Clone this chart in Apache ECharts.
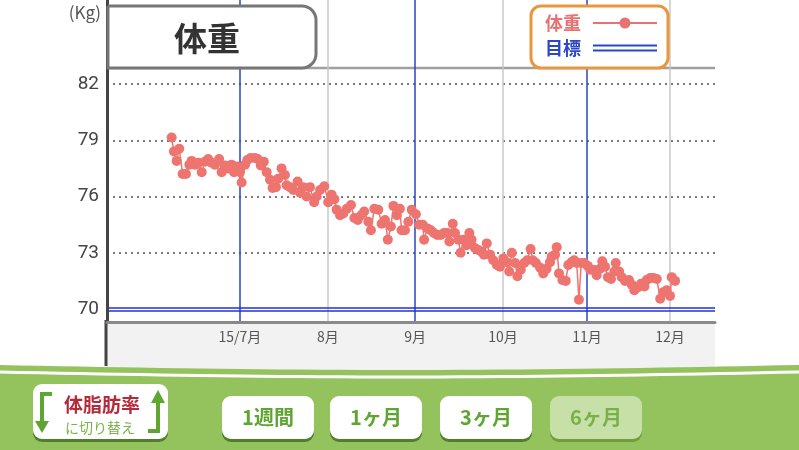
<!DOCTYPE html>
<html>
<head>
<meta charset="utf-8">
<script src="https://cdn.jsdelivr.net/npm/echarts@6/dist/echarts.min.js"></script>
<style>
html, body { margin: 0; padding: 0; background: #fff; }
#chart { width: 799px; height: 450px; }
</style>
</head>
<body>
<div id="chart"></div>
<script>
// 日数 (2015/7/1 = 0) と体重
const days = [
  -24.3, -23.5, -22.5, -21.6, -20.4, -19.2, -18.0, -17.2, -16.0, -14.8,
  -13.6, -12.5, -11.3, -10.1, -8.9, -7.4, -6.5, -5.3, -4.2, -3.0,
  -2.1, -1.0, 0, 0.6, 1.8, 2.6, 3.8, 5.3, 6.3, 7.4,
  8.5, 9.5, 10.7, 11.6, 12.8, 13.6, 14.8, 16.0, 16.6, 17.8,
  19.0, 20.5, 21.4, 22.5, 23.7, 24.9, 26.4, 27.3, 28.5, 30.0,
  31.4, 32.6, 33.6, 34.4, 35.6, 36.8, 38.0, 39.5, 40.7, 41.9,
  43.1, 44.2, 45.7, 46.6, 47.8, 49.2, 50.4, 51.6, 52.6, 53.7,
  54.6, 55.8, 56.9, 57.5, 58.7, 59.9, 61.1, 62.6, 63.8, 65.0,
  65.5, 66.7, 67.9, 69.0, 70.2, 71.4, 72.6, 73.8, 74.5, 75.7,
  76.5, 77.7, 78.5, 79.5, 80.7, 81.6, 82.4, 83.6, 84.8, 86.0,
  86.8, 87.8, 89.0, 90.1, 91.4, 92.5, 93.7, 94.9, 95.8, 96.7,
  97.9, 98.7, 99.9, 101.1, 102.2, 103.4, 104.2, 105.3, 106.8, 107.9,
  109.1, 110.3, 110.9, 112.1, 112.7, 113.5, 114.7, 115.9, 116.8, 118.0,
  118.9, 119.8, 120.6, 121.4, 122.5, 123.7, 124.6, 125.7, 126.9, 128.1,
  128.9, 129.9, 130.9, 132.0, 133.2, 133.7, 134.9, 135.8, 137.0, 138.4,
  139.4, 140.3, 141.5, 142.7, 143.9, 144.7, 145.9, 147.1, 148.3, 149.5,
  150.6, 151.8, 153.0, 153.6, 154.8
];
const weights = [
  79.15, 78.4, 77.9, 78.55, 77.2, 77.2, 77.7, 77.9, 77.7, 77.8,
  77.3, 77.85, 78.0, 77.8, 77.7, 78.0, 77.3, 77.65, 77.5, 77.7,
  77.3, 77.6, 77.3, 76.75, 77.7, 77.95, 78.05, 78.05, 78.0, 77.65,
  77.85, 77.3, 76.9, 76.45, 76.5, 76.95, 77.5, 77.15, 76.6, 76.5,
  76.35, 76.8, 76.2, 76.5, 76.0, 76.5, 75.7, 76.0, 76.35, 76.55,
  75.7, 76.1, 75.85, 75.3, 75.0, 75.1, 75.35, 75.55, 74.85, 74.75,
  75.0, 75.2, 74.65, 74.2, 75.35, 75.3, 74.55, 74.75, 73.7, 74.4,
  75.5, 75.0, 75.35, 74.2, 74.2, 74.65, 75.3, 75.05, 74.5, 74.5,
  73.7, 74.3, 74.2, 74.05, 73.95, 73.95, 74.05, 74.05, 73.6, 74.55,
  74.05, 73.7, 73.0, 73.7, 73.4, 74.05, 73.7, 73.25, 73.15, 73.05,
  72.9, 73.5, 72.9, 72.6, 72.35, 72.25, 72.7, 72.5, 72.0, 73.0,
  72.45, 71.75, 72.1, 72.45, 72.6, 73.2, 72.6, 72.45, 72.2, 71.9,
  72.15, 72.5, 72.8, 72.9, 73.3, 71.9, 71.55, 71.5, 72.35, 72.5,
  72.6, 72.45, 70.5, 72.45, 72.45, 72.3, 72.1, 72.1, 71.8, 72.15,
  72.55, 72.25, 71.7, 71.6, 72.0, 72.45, 72.0, 71.7, 71.5, 71.55,
  71.3, 71.0, 71.15, 71.35, 71.2, 71.55, 71.65, 71.65, 71.6, 70.55,
  70.9, 71.0, 70.7, 71.7, 71.5
];
const monthTicks = [0, 31.3, 62.3, 93.6, 123.5, 153];
const monthLabels = ['15/7月', '8月', '9月', '10月', '11月', '12月'];
const yTicks = [70, 73, 76, 79, 82];
const gridTicks = [73, 76, 79, 82];
const target = 70;
const periods = ['1週間', '1ヶ月', '3ヶ月', '6ヶ月'];

const FONT = '"Noto Sans CJK JP", "Noto Sans", sans-serif';
const GREEN = '#5ea531';

const chart = echarts.init(document.getElementById('chart'), null, { renderer: 'canvas' });

// 下部の緑帯
const bandTop = x => 365 + 5 * Math.sin(Math.PI * x / 799);
const bandPts = [];
const stripePts = [];
for (let x = 0; x <= 800; x += 20) {
  bandPts.push([x, bandTop(x)]);
  stripePts.push([x, bandTop(x) + 7]);
}
bandPts.push([800, 450], [0, 450]);

const btnX = [222, 330, 440, 550];
const buttons = [];
periods.forEach((p, i) => {
  const active = i === 3;
  buttons.push({
    type: 'rect', z: 101,
    shape: { x: btnX[i], y: 399, width: 92, height: 43, r: 9 },
    style: { fill: active ? '#6f9e3f' : '#4f7f2a' }
  });
  buttons.push({
    type: 'rect', z: 102,
    shape: { x: btnX[i], y: 396, width: 92, height: 43, r: 9 },
    style: { fill: active ? '#c6e0a8' : '#ffffff' }
  });
  buttons.push({
    type: 'text', z: 103,
    x: btnX[i] + 46, y: 417,
    style: {
      text: p, fill: active ? '#7ab04a' : GREEN,
      font: 'bold 20px ' + FONT, align: 'center', verticalAlign: 'middle'
    }
  });
});

const option = {
  animation: false,
  grid: { left: 107, right: 84, top: 0, bottom: 128 },
  xAxis: {
    type: 'value',
    min: -47.3,
    max: 169,
    z: 10,
    axisLine: { show: true, onZero: false, lineStyle: { color: '#8a8a8a', width: 3 } },
    axisTick: { show: false },
    splitLine: { show: false },
    axisLabel: {
      customValues: monthTicks,
      color: '#555',
      fontSize: 14,
      fontFamily: FONT,
      margin: 8,
      formatter: v => {
        const i = monthTicks.indexOf(v);
        return i >= 0 ? monthLabels[i] : '';
      }
    }
  },
  yAxis: {
    type: 'value',
    min: 69.307,
    max: 86.48,
    z: 10,
    axisLine: { show: true, onZero: false, lineStyle: { color: '#444', width: 3 } },
    axisTick: { show: false },
    splitLine: { show: false },
    axisLabel: {
      customValues: yTicks,
      color: '#444',
      fontSize: 19,
      fontFamily: 'Roboto, sans-serif',
      margin: 8
    }
  },
  series: [
    {
      name: 'grid',
      type: 'line',
      data: [],
      silent: true,
      markLine: {
        silent: true,
        symbol: 'none',
        label: { show: false },
        data: [
          ...gridTicks.map(v => ({
            yAxis: v,
            lineStyle: { color: '#7a7a7a', type: [2, 4], width: 2 }
          })),
          ...monthTicks.map((v, i) => ({
            xAxis: v,
            lineStyle: { color: i % 2 === 0 ? '#2a45c4' : '#c9c9c9', type: 'solid', width: 1.5 }
          })),
          { yAxis: target + 0.06, lineStyle: { color: '#1f32d6', type: 'solid', width: 1.5 } },
          { yAxis: target - 0.1, lineStyle: { color: '#1f32d6', type: 'solid', width: 1.5 } }
        ]
      }
    },
    {
      name: '体重',
      type: 'line',
      data: days.map((d, i) => [d, weights[i]]),
      symbol: 'circle',
      symbolSize: 10,
      itemStyle: { color: '#ee7470' },
      lineStyle: { color: '#ee7470', width: 1.5 },
      z: 5
    }
  ],
  graphic: [
    // プロット下の灰色エリア
    { type: 'rect', z: -1, shape: { x: 107, y: 323, width: 608, height: 50 }, style: { fill: '#f2f2f2' } },
    { type: 'line', z: 1, shape: { x1: 106, y1: 320, x2: 106, y2: 366 }, style: { stroke: '#444', lineWidth: 3 } },
    { type: 'line', z: 1, shape: { x1: 107, y1: 68, x2: 715, y2: 68 }, style: { stroke: '#a0a0a0', lineWidth: 2.5 } },
    // 単位
    { type: 'text', x: 101, y: 13, style: { text: '(Kg)', fill: '#555', font: '17px ' + FONT, align: 'right', verticalAlign: 'middle' } },
    // タイトル
    {
      type: 'rect', z: 20,
      shape: { x: 108, y: 6, width: 208, height: 62, r: [0, 14, 14, 0] },
      style: { fill: '#fff', stroke: '#777', lineWidth: 3 }
    },
    { type: 'text', z: 21, x: 207, y: 38, style: { text: '体重', fill: '#333', font: 'bold 33px ' + FONT, align: 'center', verticalAlign: 'middle' } },
    // 凡例
    {
      type: 'rect', z: 20,
      shape: { x: 531, y: 6, width: 137, height: 62, r: 10 },
      style: { fill: '#fff', stroke: '#e8973f', lineWidth: 3 }
    },
    { type: 'text', z: 21, x: 545, y: 23, style: { text: '体重', fill: '#e87272', font: 'bold 18px ' + FONT, verticalAlign: 'middle' } },
    { type: 'line', z: 21, shape: { x1: 593, y1: 23, x2: 657, y2: 23 }, style: { stroke: '#e87272', lineWidth: 2 } },
    { type: 'circle', z: 22, shape: { cx: 625, cy: 23, r: 5.5 }, style: { fill: '#e87272' } },
    { type: 'text', z: 21, x: 545, y: 48, style: { text: '目標', fill: '#2b47c6', font: 'bold 18px ' + FONT, verticalAlign: 'middle' } },
    { type: 'line', z: 21, shape: { x1: 593, y1: 45.5, x2: 657, y2: 45.5 }, style: { stroke: '#2b47c6', lineWidth: 2 } },
    { type: 'line', z: 21, shape: { x1: 593, y1: 50.5, x2: 657, y2: 50.5 }, style: { stroke: '#2b47c6', lineWidth: 2 } },
    // 緑帯
    { type: 'polygon', z: 100, shape: { points: bandPts }, style: { fill: '#94c35e' } },
    { type: 'polyline', z: 100, shape: { points: stripePts }, style: { stroke: '#ffffff', lineWidth: 3, fill: null } },
    // 体脂肪率 切替ボタン
    { type: 'rect', z: 101, shape: { x: 33, y: 387, width: 135, height: 55, r: 9 }, style: { fill: '#4f7f2a' } },
    { type: 'rect', z: 102, shape: { x: 33, y: 384, width: 135, height: 55, r: 9 }, style: { fill: '#ffffff' } },
    { type: 'text', z: 103, x: 102, y: 405, style: { text: '体脂肪率', fill: '#b52a3a', font: 'bold 19px ' + FONT, align: 'center', verticalAlign: 'middle' } },
    { type: 'text', z: 103, x: 100, y: 428, style: { text: 'に切り替え', fill: '#7cb24c', font: '14px ' + FONT, align: 'center', verticalAlign: 'middle' } },
    { type: 'polyline', z: 103, shape: { points: [[52, 394], [42, 394], [42, 422]] }, style: { stroke: GREEN, lineWidth: 4, fill: null } },
    { type: 'polygon', z: 103, shape: { points: [[35, 421], [49, 421], [42, 433]] }, style: { fill: GREEN } },
    { type: 'polyline', z: 103, shape: { points: [[148, 431], [158, 431], [158, 402]] }, style: { stroke: GREEN, lineWidth: 4, fill: null } },
    { type: 'polygon', z: 103, shape: { points: [[151, 403], [165, 403], [158, 390]] }, style: { fill: GREEN } },
    ...buttons
  ]
};

chart.setOption(option);
</script>
</body>
</html>
